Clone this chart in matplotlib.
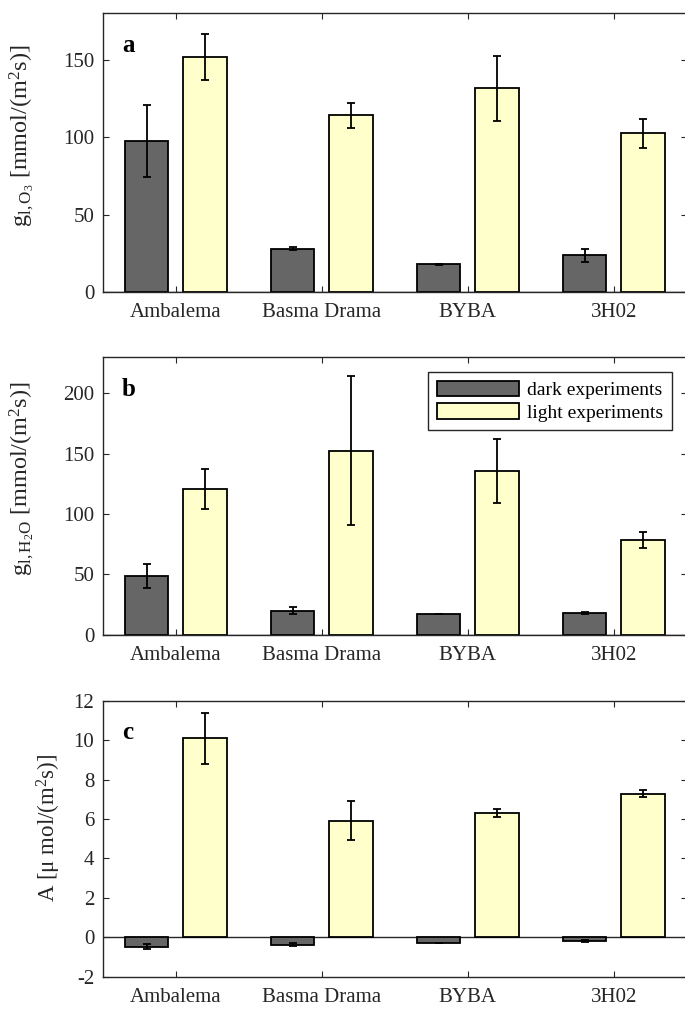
import numpy as np
import matplotlib
matplotlib.use("Agg")
import matplotlib.pyplot as plt

plt.rcParams['font.family'] = ['Liberation Serif', 'DejaVu Serif']
plt.rcParams['mathtext.fontset'] = 'custom'
plt.rcParams['mathtext.rm'] = 'Liberation Serif'
plt.rcParams['mathtext.it'] = 'Liberation Serif:italic'
plt.rcParams['mathtext.bf'] = 'Liberation Serif:bold'
plt.rcParams['axes.unicode_minus'] = False

cultivars = ['Ambalema', 'Basma Drama', 'BYBA', '3H02']

# panel a: g_l,O3
o3_dark = [97.6, 28.2, 18.1, 23.9]
o3_dark_err = [23.5, 1.0, 0.3, 4.1]
o3_light = [151.8, 114.3, 131.7, 102.6]
o3_light_err = [14.7, 8.1, 21.0, 9.5]

# panel b: g_l,H2O
h2o_dark = [48.6, 20.2, 17.4, 18.2]
h2o_dark_err = [9.8, 3.0, 0.3, 1.0]
h2o_light = [120.7, 152.2, 135.2, 78.7]
h2o_light_err = [16.3, 61.7, 26.4, 6.7]

# panel c: A
a_dark = [-0.47, -0.37, -0.30, -0.17]
a_dark_err = [0.12, 0.06, 0.0, 0.05]
a_light = [10.08, 5.91, 6.30, 7.27]
a_light_err = [1.28, 0.99, 0.22, 0.18]

panels = [
    ('a', o3_dark, o3_dark_err, o3_light, o3_light_err, (0, 180), [0, 50, 100, 150],
     r'g$_{\mathrm{l,O_3}}$ [mmol/(m$^2$s)]', 17.5, (-0.115, 0.56)),
    ('b', h2o_dark, h2o_dark_err, h2o_light, h2o_light_err, (0, 230), [0, 50, 100, 150, 200],
     r'g$_{\mathrm{l,H_2O}}$ [mmol/(m$^2$s)]', 17.5, (-0.115, 0.56)),
    ('c', a_dark, a_dark_err, a_light, a_light_err, (-2, 12), [-2, 0, 2, 4, 6, 8, 10, 12],
     r'A [$\mathrm{\mu}$ mol/(m$^2$s)]', 16.5, (-0.068, 0.54)),
]

positions = [
    [0.150, 0.7106, 0.8526, 0.2762],
    [0.150, 0.3713, 0.8526, 0.2755],
    [0.150, 0.0330, 0.8526, 0.2733],
]

dark_col = '#666666'
light_col = '#FFFFCC'
spine_col = '#262626'

fig = plt.figure(figsize=(6.85, 10.1), dpi=100)
x = np.arange(1, len(cultivars) + 1)
w = 0.3
off = 0.2

for pos, (lab, dk, dke, lt, lte, ylim, yt, ylab, ylfs, ylxy) in zip(positions, panels):
    ax = fig.add_axes(pos)
    ax.axhline(0, color=spine_col, lw=1.0, zorder=1)
    ax.bar(x - off, dk, w, color=dark_col, edgecolor='black', lw=1.3, zorder=2,
           label='dark experiments')
    ax.bar(x + off, lt, w, color=light_col, edgecolor='black', lw=1.3, zorder=2,
           label='light experiments')
    ax.errorbar(x - off, dk, yerr=dke, fmt='none', ecolor='black', elinewidth=1.3,
                capsize=2.6, capthick=1.3, zorder=3)
    ax.errorbar(x + off, lt, yerr=lte, fmt='none', ecolor='black', elinewidth=1.3,
                capsize=2.6, capthick=1.3, zorder=3)
    ax.set_xlim(0.5, 4.5)
    ax.set_ylim(*ylim)
    ax.set_yticks(yt)
    ax.set_xticks(x)
    ax.set_xticklabels(cultivars)
    ax.tick_params(direction='in', length=4.5, width=0.8, color=spine_col,
                   top=True, right=True, labelsize=15, labelcolor='#262626')
    ax.tick_params(axis='x', pad=8)
    ax.tick_params(axis='y', pad=6)
    for s in ax.spines.values():
        s.set_color(spine_col)
        s.set_linewidth(1.0)
    ax.set_ylabel(ylab, fontsize=ylfs, color='#262626')
    ax.yaxis.set_label_coords(*ylxy)
    ax.text(0.033, 0.86, lab, transform=ax.transAxes, fontsize=18, fontweight='bold')
    if lab == 'b':
        ax.legend(loc='upper right', bbox_to_anchor=(0.975, 0.945), fontsize=14,
                  handlelength=4.2, handleheight=0.85, handletextpad=0.45,
                  borderpad=0.45, labelspacing=0.2, fancybox=False,
                  edgecolor='#262626', framealpha=1, borderaxespad=0)

fig.savefig('out.png', dpi=100)
